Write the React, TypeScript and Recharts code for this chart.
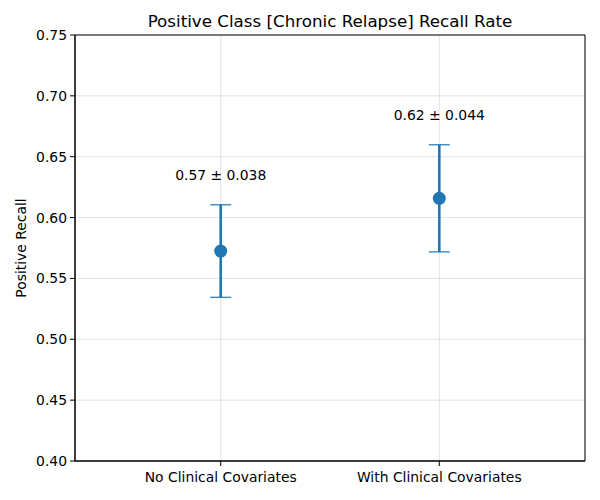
import React from 'react';
import {
  ComposedChart,
  Scatter,
  ErrorBar,
  XAxis,
  YAxis,
  CartesianGrid,
  ReferenceArea,
} from 'recharts';

const CATEGORIES = ['No Clinical Covariates', 'With Clinical Covariates'];
const MEANS = [0.5725, 0.6158];
const ERRORS = [0.038, 0.044];
const LABELS = ['0.57 ± 0.038', '0.62 ± 0.044'];
const Y_TICKS = [0.4, 0.45, 0.5, 0.55, 0.6, 0.65, 0.7, 0.75];

const BLUE = '#1f77b4';
const FONT = '"DejaVu Sans", sans-serif';
const FS = 13.9;

const points = CATEGORIES.map((name, i) => ({ x: i, y: MEANS[i], err: ERRORS[i], name }));
// text sits just above each error bar top
const labelPoints = CATEGORIES.map((_, i) => ({ x: i, y: MEANS[i] + ERRORS[i] + 0.02, text: LABELS[i] }));

const LabelShape = (props: any) => (
  <text x={props.cx} y={props.cy} textAnchor="middle" fontSize={FS} fontFamily={FONT} fill="#000">
    {props.payload.text}
  </text>
);

const Dot = (props: any) => <circle cx={props.cx} cy={props.cy} r={6.5} fill={BLUE} />;

const App: React.FC = () => {
  return (
    <div style={{ position: 'absolute', left: 0, top: 0, width: 600, height: 500, background: '#fff', fontFamily: FONT }}>
      <div style={{ position: 'absolute', left: 75, width: 510, top: 11, textAlign: 'center', fontSize: 16.7 }}>
        Positive Class [Chronic Relapse] Recall Rate
      </div>
      <div
        style={{
          position: 'absolute',
          left: 21,
          top: 248,
          fontSize: FS,
          whiteSpace: 'nowrap',
          transform: 'translate(-50%, -50%) rotate(-90deg)',
        }}
      >
        Positive Recall
      </div>
      <ComposedChart width={600} height={500} margin={{ top: 35, right: 15, bottom: 9, left: 15 }}>
        <CartesianGrid stroke="#b0b0b0" strokeOpacity={0.35} />
        <XAxis
          type="number"
          dataKey="x"
          domain={[-2 / 3, 5 / 3]}
          ticks={[0, 1]}
          tickFormatter={(v: number) => CATEGORIES[v] ?? ''}
          height={30}
          tickSize={5}
          tickMargin={6}
          stroke="#000"
          tick={{ fill: '#000', fontSize: FS, fontFamily: FONT }}
          allowDataOverflow
        />
        <YAxis
          type="number"
          dataKey="y"
          domain={[0.4, 0.75]}
          ticks={Y_TICKS}
          tickFormatter={(v: number) => v.toFixed(2)}
          width={60}
          tickSize={5}
          tickMargin={3}
          stroke="#000"
          tick={{ fill: '#000', fontSize: FS, fontFamily: FONT }}
          allowDataOverflow
        />
        <ReferenceArea x1={-2 / 3} x2={5 / 3} y1={0.4} y2={0.75} fill="none" stroke="#000" strokeWidth={1} />
        <Scatter data={points} shape={Dot} isAnimationActive={false}>
          <ErrorBar dataKey="err" direction="y" width={10.5} stroke={BLUE} strokeWidth={1.2} />
          <ErrorBar dataKey="err" direction="y" width={0} stroke={BLUE} strokeWidth={2.6} />
        </Scatter>
        <Scatter data={labelPoints} shape={LabelShape} isAnimationActive={false} />
      </ComposedChart>
    </div>
  );
};

export default App;
